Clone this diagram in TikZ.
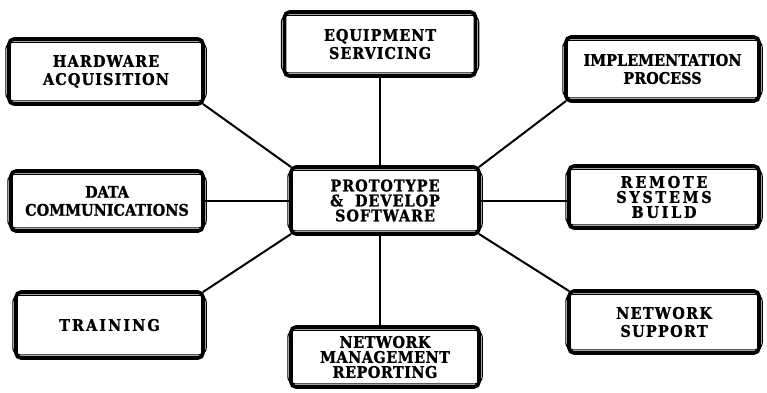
\documentclass[tikz,border=0pt]{standalone}
\usepackage{fontspec}
\newfontfamily\boxfont[FakeBold=1.2]{DejaVu Serif Condensed Bold}
\newcommand{\lsp}[1]{\addfontfeatures{LetterSpace=#1}}
\begin{document}
\begin{tikzpicture}[x=1pt,y=-1pt,
  box/.style={draw=black, line width=3.6pt, rounded corners=5pt, fill=white,
    align=center, inner sep=0pt, outer sep=0pt,
    font=\boxfont\fontsize{16}{18}\selectfont},
  wide/.style={font=\boxfont\fontsize{16}{18}\selectfont\lsp{#1}},
  tight/.style={font=\boxfont\fontsize{16}{15}\selectfont\lsp{#1}},
  ring/.style={draw=black, line width=1.1pt, rounded corners=7pt},
  link/.style={draw=black, line width=2pt}]
\useasboundingbox (0,0) rectangle (767,392);
% boxes (inner thick frame; outer extent given by ring)
\node[box, wide=7, minimum width=194, minimum height=65] (hw) at (106,71.5) {HARDWARE\\ACQUISITION};
\node[box, wide=6, minimum width=191, minimum height=64] (eq) at (380,44) {EQUIPMENT\\SERVICING};
\node[box, minimum width=193, minimum height=64] (im) at (662.5,69) {IMPLEMENTATION\\PROCESS};
\node[box, minimum width=192, minimum height=60] (dc) at (107,201) {DATA\\COMMUNICATIONS};
\node[box, tight=6, minimum width=188, minimum height=67] (ce) at (385,200.5) {PROTOTYPE\\\&\ \ DEVELOP\\SOFTWARE};
\node[box, tight=17, minimum width=190, minimum height=62] (rs) at (664,197) {REMOTE\\SYSTEMS\\BUILD};
\node[box, wide=13, minimum width=187, minimum height=66] (tr) at (109.5,325) {TRAINING};
\node[box, tight=3, minimum width=188, minimum height=60] (nm) at (385,357) {NETWORK\\MANAGEMENT\\REPORTING};
\node[box, wide=8, minimum width=190, minimum height=62] (ns) at (664,322) {NETWORK\\SUPPORT};
% outer rings
\foreach \n in {hw,eq,im,dc,ce,rs,tr,nm,ns}
  \draw[ring] ([shift={(-3.2pt,-3.2pt)}]\n.north west) rectangle ([shift={(3.2pt,3.2pt)}]\n.south east);
% connectors
\draw[link] (hw.south east) -- (ce.north west);
\draw[link] (ce.north east) -- (im.south west);
\draw[link] (ce.south west) -- (tr.north east);
\draw[link] (ce.south east) -- (ns.north west);
\draw[link] (dc.east) -- (dc.east -| ce.west);
\draw[link] (ce.east) -- (ce.east -| rs.west);
\draw[link] (eq.south) -- (eq.south |- ce.north);
\draw[link] (eq.south |- ce.south) -- (eq.south |- nm.north);
\end{tikzpicture}
\end{document}
